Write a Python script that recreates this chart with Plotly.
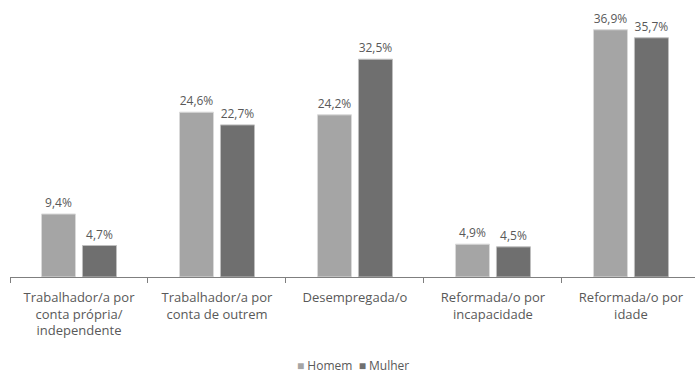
import plotly.graph_objects as go

categories = [
    "Trabalhador/a por<br>conta própria/<br>independente",
    "Trabalhador/a por<br>conta de outrem",
    "Desempregada/o",
    "Reformada/o por<br>incapacidade",
    "Reformada/o por<br>idade",
]
homem = [9.4, 24.6, 24.2, 4.9, 36.9]
mulher = [4.7, 22.7, 32.5, 4.5, 35.7]
series_names = ["Homem", "Mulher"]
series_colors = ["#a5a5a5", "#6f6f6f"]

def pct(v):
    return f"{v:.1f}".replace(".", ",") + "%"

text_font = dict(family="Open Sans", size=12, color="#595959")

fig = go.Figure()
for name, vals, col, edge in zip(series_names, [homem, mulher], series_colors, ["#d9d9d9", "#bfbfbf"]):
    fig.add_trace(go.Bar(
        name=name, x=categories, y=vals,
        marker=dict(color=col, line=dict(color=edge, width=1)),
        text=[pct(v) for v in vals], textposition="outside",
        textfont=text_font, cliponaxis=False, showlegend=False,
    ))

# compact legend row under the axis
legend_html = "  ".join(
    f"<span style='color:{c}'>■</span> {n}" for n, c in zip(series_names, series_colors)
)
fig.add_annotation(
    text=legend_html, xref="paper", yref="paper", x=0.5, y=-0.318,
    xanchor="center", yanchor="middle", showarrow=False, borderpad=0,
    font=dict(family="Open Sans", size=12, color="#595959"),
)

fig.update_layout(
    width=695, height=375,
    margin=dict(l=10, r=0, t=0, b=98, autoexpand=False),
    paper_bgcolor="white", plot_bgcolor="white",
    barmode="group", bargap=0.406, bargroupgap=0.17,
    font=dict(family="Open Sans", size=13, color="#595959"),
    uniformtext=dict(minsize=12, mode="show"),
    xaxis=dict(
        type="category", range=[-0.5, 4.464], automargin=False,
        showline=True, linecolor="#7f7f7f", linewidth=1,
        ticks="outside", tickson="boundaries", ticklen=5, tickcolor="#7f7f7f",
        ticklabelstandoff=8,
        showgrid=False, tickfont=dict(size=13, color="#595959"),
    ),
    yaxis=dict(range=[0, 41.34], visible=False, showgrid=False, zeroline=False),
)

fig.write_html("out.html")
